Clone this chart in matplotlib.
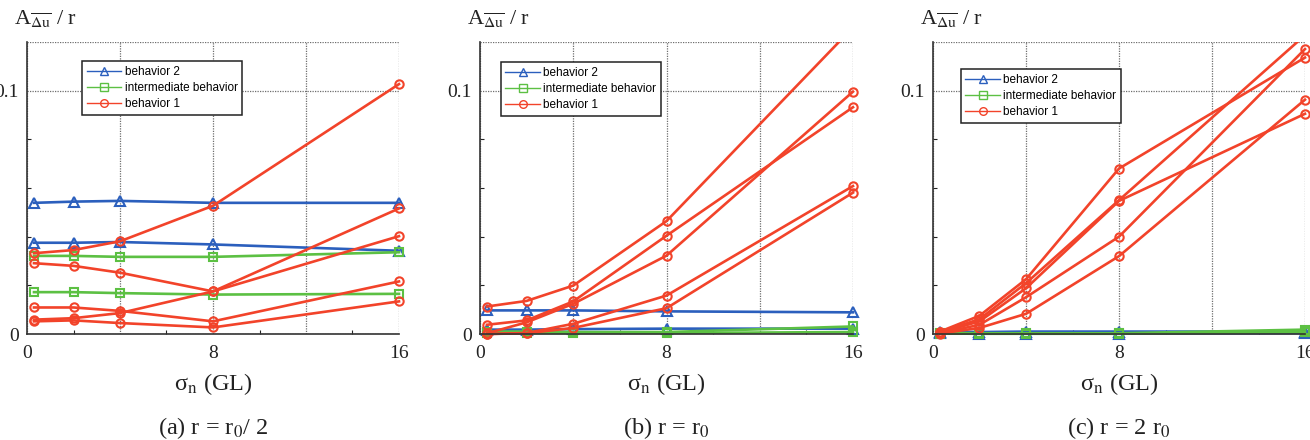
import matplotlib
matplotlib.use('Agg')
import matplotlib.pyplot as plt
from matplotlib.patches import Rectangle

plt.rcParams['font.family'] = ['Liberation Serif', 'DejaVu Serif']
plt.rcParams['mathtext.fontset'] = 'stix'

# ---------------- data ----------------
x_vals = [0.3, 2, 4, 8, 16]
x_ticks = [0, 4, 8, 12, 16]
x_tick_labels = ['0', '', '8', '', '16']
x_minor = [2, 6, 10, 14]
y_ticks = [0, 0.1, 0.12]
y_tick_labels = ['0', '0.1', '']
y_minor = [0.02, 0.04, 0.06, 0.08]

legend_labels = ['behavior 2', 'intermediate behavior', 'behavior 1']
captions = ['(a) r = r$_{0}$/ 2', '(b) r = r$_{0}$', '(c) r = 2 r$_{0}$']

# panel (a)  r = r0/2
a_blue = [[0.0539, 0.0544, 0.0547, 0.0539, 0.0539],
          [0.0375, 0.0375, 0.0378, 0.0368, 0.0342]]
a_green = [[0.0321, 0.0321, 0.0317, 0.0317, 0.0336],
           [0.0172, 0.0172, 0.0168, 0.0162, 0.0165]]
a_red = [[0.0332, 0.0345, 0.0381, 0.0527, 0.1027],
         [0.0291, 0.0280, 0.0252, 0.0175, 0.0402],
         [0.0109, 0.0109, 0.0095, 0.0052, 0.0216],
         [0.0059, 0.0065, 0.0086, 0.0175, 0.0516],
         [0.0052, 0.0056, 0.0045, 0.0027, 0.0134]]

# panel (b)  r = r0
b_blue = [[0.0097, 0.0097, 0.0097, 0.0093, 0.0089],
          [0.0018, 0.0018, 0.0020, 0.0022, 0.0022]]
b_green = [[0.0010, 0.0010, 0.0008, 0.0008, 0.0031],
           [0.0004, 0.0004, 0.0004, 0.0004, 0.0008]]
b_red = [[0.0113, 0.0136, 0.0199, 0.0464, 0.1260],
         [0.0038, 0.0056, 0.0134, 0.0404, 0.0932],
         [0.0003, 0.0048, 0.0124, 0.0322, 0.0996],
         [0.0000, 0.0004, 0.0042, 0.0158, 0.0608],
         [0.0000, 0.0003, 0.0025, 0.0106, 0.0581]]

# panel (c)  r = 2 r0
c_blue = [[0.0010, 0.0008, 0.0010, 0.0010, 0.0010],
          [0.0004, 0.0002, 0.0002, 0.0002, 0.0004]]
c_green = [[0.0005, 0.0003, 0.0003, 0.0003, 0.0018],
           [0.0002, 0.0001, 0.0001, 0.0001, 0.0008]]
c_red = [[0.0010, 0.0075, 0.0225, 0.0680, 0.1136],
         [0.0008, 0.0061, 0.0209, 0.0550, 0.1228],
         [0.0005, 0.0052, 0.0188, 0.0547, 0.0905],
         [0.0003, 0.0038, 0.0151, 0.0400, 0.1171],
         [0.0002, 0.0025, 0.0083, 0.0320, 0.0963]]

panels = [(a_blue, a_green, a_red), (b_blue, b_green, b_red), (c_blue, c_green, c_red)]

# ---------------- style / layout ----------------
W, H = 1310, 440
col_blue = '#2b5fbd'
col_green = '#5cc043'
col_red = '#f2432a'
axes_px = [(27, 399), (480, 853), (933, 1305)]
ax_top, ax_bot = 42, 334
legend_anchor = [(0.148, 0.935), (0.0555, 0.9315), (0.0745, 0.9075)]

fig = plt.figure(figsize=(W / 100, H / 100), dpi=100)

for i, (blues, greens, reds) in enumerate(panels):
    l, r = axes_px[i]
    ax = fig.add_axes([l / W, (H - ax_bot) / H, (r - l) / W, (ax_bot - ax_top) / H])
    clip = Rectangle((-0.06, -0.06), 1.12, 1.06, transform=ax.transAxes,
                     facecolor='none', edgecolor='none')
    handles = []
    for series, col, mk, ms in ((blues, col_blue, '^', 6.5),
                                (greens, col_green, 's', 6.0),
                                (reds, col_red, 'o', 6.0)):
        for k, ys in enumerate(series):
            ln, = ax.plot(x_vals, ys, color=col, lw=1.9, marker=mk, ms=ms,
                          mfc='none', mec=col, mew=1.5, zorder=3)
            ln.set_clip_path(clip)
            if k == 0:
                handles.append(ln)

    ax.set_xlim(0, 16)
    ax.set_ylim(0, 0.12)
    ax.set_xticks(x_ticks)
    ax.set_xticklabels(x_tick_labels)
    ax.set_xticks(x_minor, minor=True)
    ax.set_yticks(y_ticks)
    ax.set_yticklabels(y_tick_labels)
    ax.set_yticks(y_minor, minor=True)
    ax.tick_params(which='both', direction='in', top=False, right=False,
                   labelsize=14, colors='#222222')
    ax.tick_params(axis='x', which='major', length=0, pad=8)
    ax.tick_params(axis='y', which='major', length=0, pad=6)
    ax.tick_params(which='minor', length=3, width=0.8)
    ax.grid(True, which='major', color='#6e6e6e', linestyle=(0, (1, 1)), lw=0.9)
    ax.set_axisbelow(True)
    ax.spines['top'].set_visible(False)
    ax.spines['right'].set_visible(False)
    for s in ('left', 'bottom'):
        ax.spines[s].set_color('#333333')
        ax.spines[s].set_linewidth(1.2)
        ax.spines[s].set_zorder(4)

    leg = ax.legend(handles, legend_labels, loc='upper left',
                    bbox_to_anchor=legend_anchor[i], borderaxespad=0,
                    prop={'family': 'Liberation Sans', 'size': 8.5},
                    frameon=True, fancybox=False, framealpha=1,
                    edgecolor='#222222', handlelength=2.9, handletextpad=0.3,
                    borderpad=0.4, labelspacing=0.35)
    leg.get_frame().set_linewidth(1.1)
    for h in leg.legend_handles:
        h.set_linewidth(1.0)
        h.set_markersize(5.5)
        h.set_markeredgewidth(1.0)
    leg.set_zorder(5)

    cx = (l + r) / 2
    fig.text((l - 13) / W, (H - 25) / H, r'A$_{\overline{\Delta \mathrm{u}}}$ / r',
             fontsize=16, ha='left', va='baseline', color='#222222')
    fig.text(cx / W, (H - 390) / H, r'σ$_{\mathrm{n}}$ (GL)', fontsize=17.5,
             ha='center', va='baseline', color='#222222')
    fig.text(cx / W, (H - 434) / H, captions[i], fontsize=17.5,
             ha='center', va='baseline', color='#222222')

fig.savefig('out.png', dpi=100)
